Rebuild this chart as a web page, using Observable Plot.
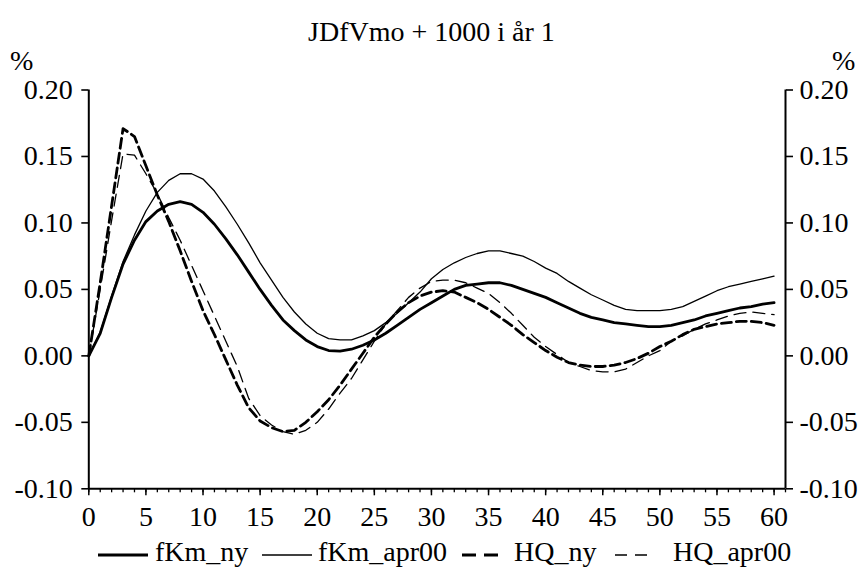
<!DOCTYPE html>
<html>
<head>
<meta charset="utf-8">
<script src="https://cdn.jsdelivr.net/npm/d3@7"></script>
<script src="https://cdn.jsdelivr.net/npm/@observablehq/plot@0.6"></script>
<style>
  html, body { margin: 0; padding: 0; background: #fff; }
  #wrap { position: relative; width: 863px; height: 572px; background: #fff;
          font-family: 'Liberation Serif', 'Times New Roman', serif; color: #000; }
  #chart { position: absolute; left: 0; top: 0; }
  .lbl { position: absolute; font-size: 28px; line-height: 34px; white-space: nowrap; }
  .sample { position: absolute; }
</style>
</head>
<body>
<div id="wrap">
  <div id="chart"></div>
  <div class="lbl" id="title" style="left:0;width:863px;top:15px;text-align:center;"></div>
  <div class="lbl" id="pctL" style="left:10px;top:44px;">%</div>
  <div class="lbl" id="pctR" style="left:832px;top:44px;">%</div>
  <div id="legend"></div>
</div>
<script>
const title = "JDfVmo + 1000 i år 1";
const seriesNames = ["fKm_ny", "fKm_apr00", "HQ_ny", "HQ_apr00"];
const xTickLabels = [0, 5, 10, 15, 20, 25, 30, 35, 40, 45, 50, 55, 60];
const yTickValues = [-0.10, -0.05, 0.00, 0.05, 0.10, 0.15, 0.20];

// quarters 0..60
const fKm_ny = [
  0.000, 0.017, 0.044, 0.069, 0.087, 0.101, 0.109, 0.114, 0.116, 0.114,
  0.108, 0.099, 0.088, 0.076, 0.063, 0.050, 0.038, 0.027, 0.019, 0.012,
  0.007, 0.004, 0.0035, 0.005, 0.008, 0.012, 0.017, 0.023, 0.029, 0.035,
  0.040, 0.045, 0.050, 0.053, 0.054, 0.055, 0.055, 0.053, 0.050, 0.047,
  0.044, 0.040, 0.036, 0.032, 0.029, 0.027, 0.025, 0.024, 0.023, 0.022,
  0.022, 0.023, 0.025, 0.027, 0.030, 0.032, 0.034, 0.036, 0.037, 0.039,
  0.040
];
const fKm_apr00 = [
  0.000, 0.018, 0.045, 0.071, 0.091, 0.109, 0.123, 0.132, 0.137, 0.137,
  0.133, 0.124, 0.112, 0.099, 0.085, 0.070, 0.057, 0.044, 0.033, 0.024,
  0.017, 0.013, 0.012, 0.012, 0.015, 0.019, 0.025, 0.032, 0.040, 0.048,
  0.058, 0.065, 0.070, 0.074, 0.077, 0.079, 0.079, 0.077, 0.075, 0.071,
  0.066, 0.062, 0.056, 0.051, 0.046, 0.042, 0.038, 0.035, 0.034, 0.034,
  0.034, 0.035, 0.037, 0.041, 0.045, 0.049, 0.052, 0.054, 0.056, 0.058,
  0.060
];
const HQ_ny = [
  0.000, 0.055, 0.113, 0.171, 0.165, 0.143, 0.121, 0.101, 0.079, 0.056,
  0.034, 0.016, -0.003, -0.022, -0.039, -0.049, -0.054, -0.057, -0.056, -0.050,
  -0.042, -0.033, -0.022, -0.010, 0.002, 0.014, 0.024, 0.033, 0.040, 0.045,
  0.048, 0.049, 0.048, 0.044, 0.040, 0.035, 0.029, 0.023, 0.016, 0.010,
  0.004, -0.001, -0.005, -0.007, -0.008, -0.008, -0.007, -0.005, -0.002, 0.002,
  0.007, 0.011, 0.016, 0.020, 0.022, 0.024, 0.025, 0.026, 0.026, 0.025,
  0.023
];
const HQ_apr00 = [
  0.000, 0.050, 0.102, 0.152, 0.151, 0.137, 0.122, 0.104, 0.087, 0.068,
  0.049, 0.030, 0.011, -0.008, -0.032, -0.045, -0.052, -0.057, -0.059, -0.056,
  -0.050, -0.040, -0.028, -0.017, -0.003, 0.011, 0.024, 0.034, 0.044, 0.051,
  0.056, 0.057, 0.057, 0.055, 0.051, 0.047, 0.040, 0.032, 0.023, 0.014,
  0.007, 0.001, -0.005, -0.008, -0.011, -0.012, -0.012, -0.010, -0.005, 0.000,
  0.004, 0.011, 0.015, 0.020, 0.024, 0.027, 0.030, 0.032, 0.033, 0.032,
  0.031
];

const styles = {
  fKm_ny:    { strokeWidth: 2.8, dash: null },
  fKm_apr00: { strokeWidth: 1.3, dash: null },
  HQ_ny:     { strokeWidth: 2.8, dash: "10,5" },
  HQ_apr00:  { strokeWidth: 1.3, dash: "12,7" }
};
const seriesValues = { fKm_ny, fKm_apr00, HQ_ny, HQ_apr00 };

document.getElementById("title").textContent = title;

const font = "'Liberation Serif', 'Times New Roman', serif";
const lineMarks = seriesNames.map(name => Plot.line(seriesValues[name], {
  x: (d, i) => i,
  y: d => d,
  stroke: "black",
  strokeWidth: styles[name].strokeWidth,
  strokeDasharray: styles[name].dash || undefined,
  strokeLinejoin: "round",
  curve: "linear"
}));

const chart = Plot.plot({
  width: 863,
  height: 572,
  marginTop: 89.5,
  marginBottom: 83.7,
  marginLeft: 88.3,
  marginRight: 78,
  style: { fontFamily: font, fontSize: "28px", color: "black", background: "white", overflow: "visible" },
  x: { domain: [0, 61] },
  y: { domain: [-0.1, 0.2] },
  marks: [
    Plot.axisY({ anchor: "left", ticks: yTickValues, tickFormat: d => d.toFixed(2), tickSize: 7, tickPadding: 9, label: null, fontSize: 28, strokeWidth: 1.6 }),
    Plot.axisY({ anchor: "right", ticks: yTickValues, tickFormat: d => d.toFixed(2), tickSize: 7, tickPadding: 7, label: null, fontSize: 28, strokeWidth: 1.6 }),
    Plot.axisX({ ticks: d3.range(0, 62), tickSize: 4, tickFormat: () => "", label: null, strokeWidth: 1.3 }),
    Plot.axisX({ ticks: xTickLabels, tickSize: 7, tickPadding: 10, label: null, fontSize: 28, strokeWidth: 1.5 }),
    Plot.ruleX([0, 61], { stroke: "black", strokeWidth: 2 }),
    Plot.ruleY([-0.1], { stroke: "black", strokeWidth: 2 }),
    ...lineMarks
  ]
});
document.getElementById("chart").appendChild(chart);

// legend
const legendLayout = [
  { name: "fKm_ny",    sx: 98,  sw: 50, tx: 155 },
  { name: "fKm_apr00", sx: 262, sw: 50, tx: 318 },
  { name: "HQ_ny",     sx: 462, sw: 44, tx: 514 },
  { name: "HQ_apr00",  sx: 615, sw: 40, tx: 673 }
];
const legend = document.getElementById("legend");
legendLayout.forEach(item => {
  const st = styles[item.name];
  const svgNS = "http://www.w3.org/2000/svg";
  const svg = document.createElementNS(svgNS, "svg");
  svg.setAttribute("class", "sample");
  svg.setAttribute("width", item.sw);
  svg.setAttribute("height", 10);
  svg.style.left = item.sx + "px";
  svg.style.top = "550px";
  const ln = document.createElementNS(svgNS, "line");
  ln.setAttribute("x1", 0); ln.setAttribute("x2", item.sw);
  ln.setAttribute("y1", 5); ln.setAttribute("y2", 5);
  ln.setAttribute("stroke", "black");
  ln.setAttribute("stroke-width", st.strokeWidth);
  if (st.dash) ln.setAttribute("stroke-dasharray", item.name === "HQ_ny" ? "14,8" : "12,8");
  svg.appendChild(ln);
  legend.appendChild(svg);
  const t = document.createElement("div");
  t.className = "lbl";
  t.style.left = item.tx + "px";
  t.style.top = "535px";
  t.textContent = item.name;
  legend.appendChild(t);
});
</script>
</body>
</html>
